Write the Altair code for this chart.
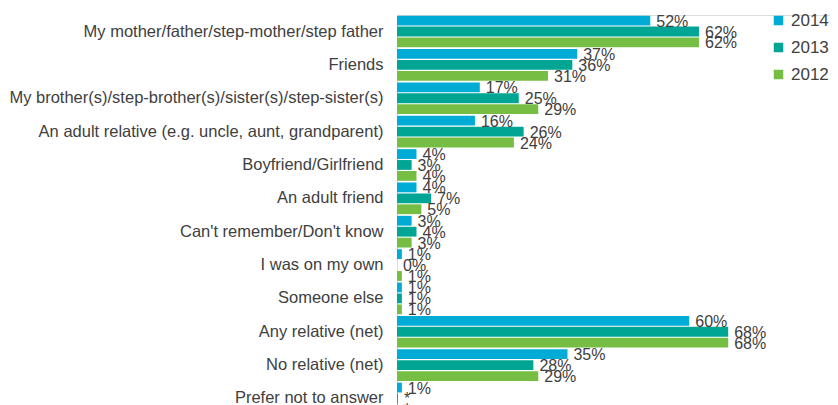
import altair as alt
import pandas as pd

categories = [
    "My mother/father/step-mother/step father",
    "Friends",
    "My brother(s)/step-brother(s)/sister(s)/step-sister(s)",
    "An adult relative (e.g. uncle, aunt, grandparent)",
    "Boyfriend/Girlfriend",
    "An adult friend",
    "Can't remember/Don't know",
    "I was on my own",
    "Someone else",
    "Any relative (net)",
    "No relative (net)",
    "Prefer not to answer",
]
years = ["2014", "2013", "2012"]
v2014 = [52, 37, 17, 16, 4, 4, 3, 1, 1, 60, 35, 1]
v2013 = [62, 36, 25, 26, 3, 7, 4, 0, 1, 68, 28, 0.2]
v2012 = [62, 31, 29, 24, 4, 5, 3, 1, 1, 68, 29, 0.2]
t2014 = ["52%", "37%", "17%", "16%", "4%", "4%", "3%", "1%", "1%", "60%", "35%", "1%"]
t2013 = ["62%", "36%", "25%", "26%", "3%", "7%", "4%", "0%", "1%", "68%", "28%", "*"]
t2012 = ["62%", "31%", "29%", "24%", "4%", "5%", "3%", "1%", "1%", "68%", "29%", "*"]
colors = ["#00ABD6", "#00A693", "#76BE43"]

rows = []
for vals, texts, yr in [(v2014, t2014, "2014"), (v2013, t2013, "2013"), (v2012, t2012, "2012")]:
    for c, v, t in zip(categories, vals, texts):
        rows.append({"category": c, "year": yr, "value": v, "label": t})
df = pd.DataFrame(rows)

y_enc = alt.Y("category:N", sort=categories, title=None,
              scale=alt.Scale(paddingInner=0.05, paddingOuter=0.02),
              axis=alt.Axis(domain=False, ticks=False, labelFontSize=16.5,
                            labelColor="#404040", labelPadding=14,
                            labelFont="Liberation Sans", labelLimit=400))
yoff = alt.YOffset("year:N", sort=years, scale=alt.Scale(paddingInner=0.1))
x_enc = alt.X("value:Q", scale=alt.Scale(domain=[0, 88.9], nice=False, zero=True),
              axis=None)

bars = alt.Chart(df).mark_bar(cornerRadius=0).encode(
    y=y_enc,
    yOffset=yoff,
    x=x_enc,
    color=alt.Color("year:N", sort=years,
                    scale=alt.Scale(domain=years, range=colors),
                    legend=alt.Legend(title=None, orient="none", legendX=373, legendY=-3,
                                      symbolType="square", symbolSize=90,
                                      symbolStrokeWidth=0,
                                      labelFontSize=17, labelColor="#404040",
                                      labelFont="Liberation Sans", labelLimit=200,
                                      rowPadding=9, labelOffset=4)),
)

text = alt.Chart(df).mark_text(align="left", baseline="middle", dx=6, dy=1,
                               fontSize=16, color="#404040",
                               font="Liberation Sans").encode(
    y=alt.Y("category:N", sort=categories),
    yOffset=alt.YOffset("year:N", sort=years),
    x=alt.X("value:Q"),
    text="label:N",
)

chart = (bars + text).properties(
    width=433, height=400,
    padding={"left": 389, "top": 7, "right": 0, "bottom": 0},
    autosize=alt.AutoSizeParams(type="none"),
).configure_view(stroke=None).configure(background="white")

chart.save("out.html", embed_options={"renderer": "svg", "actions": False})
